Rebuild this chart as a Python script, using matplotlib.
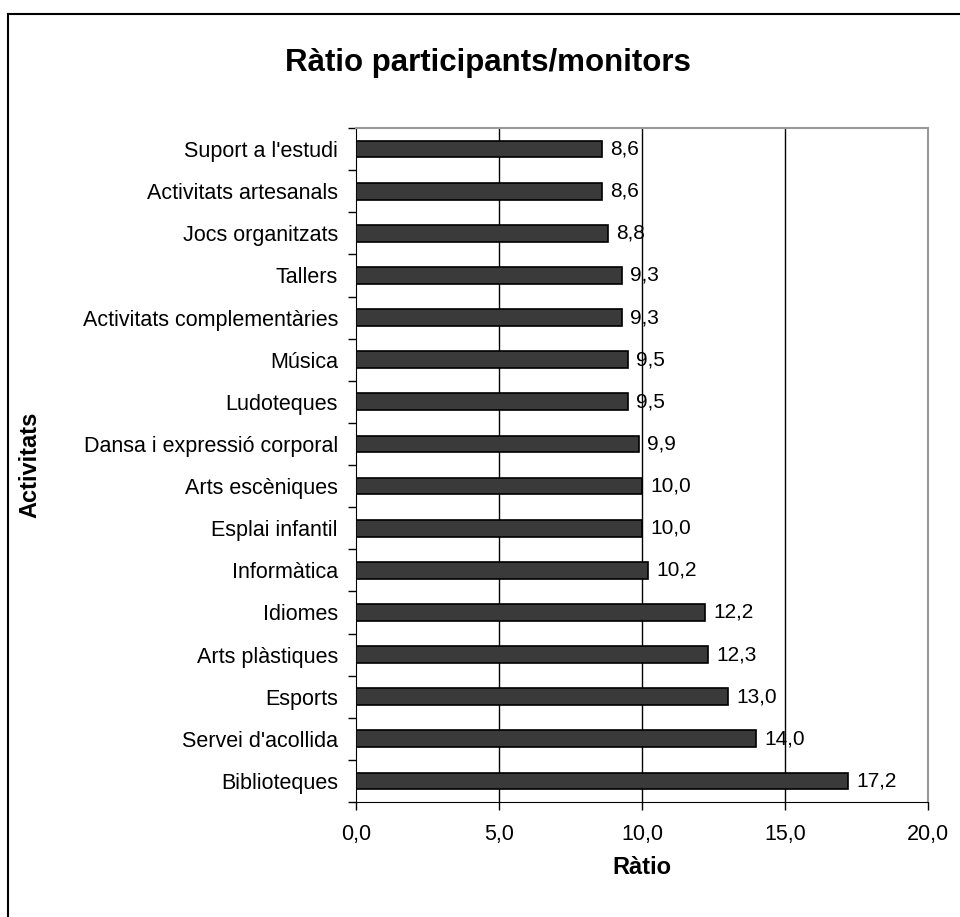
import matplotlib
matplotlib.use("Agg")
import matplotlib.pyplot as plt
from matplotlib.lines import Line2D
import numpy as np

plt.rcParams['font.family'] = ['Liberation Sans', 'DejaVu Sans']

categories = ["Suport a l'estudi", "Activitats artesanals", "Jocs organitzats", "Tallers",
              "Activitats complementàries", "Música", "Ludoteques", "Dansa i expressió corporal",
              "Arts escèniques", "Esplai infantil", "Informàtica", "Idiomes", "Arts plàstiques",
              "Esports", "Servei d'acollida", "Biblioteques"]
values = [8.6, 8.6, 8.8, 9.3, 9.3, 9.5, 9.5, 9.9, 10.0, 10.0, 10.2, 12.2, 12.3, 13.0, 14.0, 17.2]
xticks = [0, 5, 10, 15, 20]
xticklabels = ["0,0", "5,0", "10,0", "15,0", "20,0"]

fig = plt.figure(figsize=(9.6, 9.17), dpi=100)
ax = fig.add_axes([356/960, 1-802/917, (928-356)/960, (802-128)/917])

n = len(categories)
y = np.arange(n)[::-1]
ax.barh(y, values, height=0.4, color='#3a3a3a', edgecolor='black', linewidth=1.2, zorder=3)
for yi, v in zip(y, values):
    ax.annotate(f"{v:.1f}".replace('.', ','), (v, yi), xytext=(6, 0), textcoords='offset points',
                va='center', ha='left', fontsize=15, zorder=4)

ax.set_xlim(0, 20)
ax.set_ylim(-0.5, n - 0.5)
ax.set_xticks(xticks)
ax.set_xticklabels(xticklabels, fontsize=15.5)
ax.set_yticks(y)
ax.set_yticklabels(categories, fontsize=15.5)
ax.set_yticks(np.arange(-0.5, n, 1), minor=True)
ax.tick_params(axis='y', which='major', length=0, pad=13)
ax.tick_params(axis='y', which='minor', length=6, width=1, direction='out')
ax.tick_params(axis='x', which='major', length=6, width=1, direction='out', pad=10)

for xv in xticks[1:-1]:
    ax.axvline(xv, color='black', linewidth=1, zorder=1)

ax.spines['left'].set_color('black')
ax.spines['bottom'].set_color('black')
ax.spines['top'].set_color('#999999')
ax.spines['right'].set_color('#999999')
ax.spines['top'].set_linewidth(1.5)
ax.spines['right'].set_linewidth(1.5)

ax.set_xlabel("Ràtio", fontsize=17, fontweight='bold')
ax.set_ylabel("Activitats", fontsize=17, fontweight='bold')
ax.xaxis.set_label_coords(0.5, (802-867)/674)
ax.xaxis.label.set_va('center')
ax.yaxis.set_label_coords((30-356)/572, 0.5)
ax.yaxis.label.set_va('center')

fig.text(488/960, 1-63/917, "Ràtio participants/monitors", ha='center', va='center',
         fontsize=22.5, fontweight='bold')

# outer chart frame
fig.add_artist(Line2D([8/960, 1.0], [1-14/917, 1-14/917], color='black', linewidth=1.5,
                      transform=fig.transFigure))
fig.add_artist(Line2D([8/960, 8/960], [1-14/917, 0.0], color='black', linewidth=1.5,
                      transform=fig.transFigure))

fig.savefig("out.png", dpi=100)
